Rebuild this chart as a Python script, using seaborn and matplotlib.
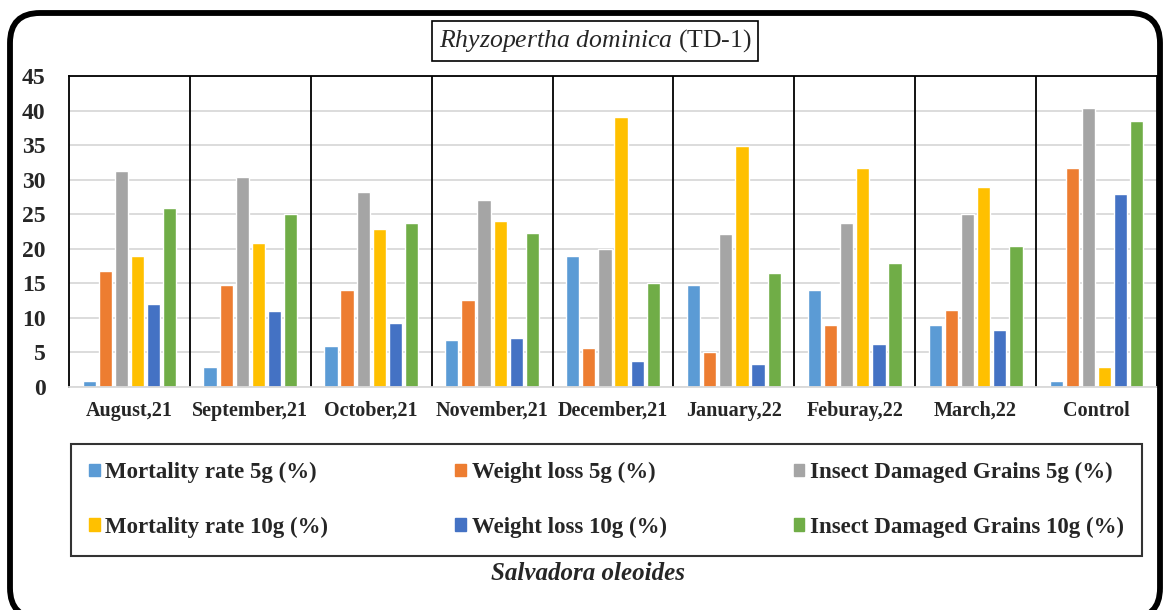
import matplotlib
matplotlib.use("Agg")
import matplotlib.pyplot as plt
import matplotlib.patches as mpatches
import matplotlib.transforms as mtransforms
import numpy as np
import pandas as pd
import seaborn as sns

months = ["August,21", "September,21", "October,21", "November,21", "December,21",
          "January,22", "Feburay,22", "March,22", "Control"]
series = ["Mortality rate 5g (%)", "Weight loss 5g (%)", "Insect Damaged Grains 5g (%)",
          "Mortality rate 10g (%)", "Weight loss 10g (%)", "Insect Damaged Grains 10g (%)"]

mortality_5g = [0.9, 2.9, 5.9, 6.8, 19.0, 14.8, 14.0, 9.0, 0.9]
weight_loss_5g = [16.8, 14.8, 14.0, 12.6, 5.7, 5.1, 9.0, 11.2, 31.7]
damaged_5g = [31.2, 30.4, 28.2, 27.1, 20.0, 22.1, 23.7, 25.1, 40.4]
mortality_10g = [19.0, 20.9, 22.9, 24.0, 39.0, 34.8, 31.7, 29.0, 2.9]
weight_loss_10g = [12.0, 11.0, 9.2, 7.1, 3.7, 3.4, 6.2, 8.2, 27.9]
damaged_10g = [25.9, 25.1, 23.7, 22.3, 15.1, 16.5, 17.9, 20.4, 38.5]

colors = ["#5B9BD5", "#ED7D31", "#A5A5A5", "#FFC000", "#4472C4", "#70AD47"]

values = [mortality_5g, weight_loss_5g, damaged_5g, mortality_10g, weight_loss_10g, damaged_10g]
df = pd.DataFrame(
    [(m, s, v[i]) for s, v in zip(series, values) for i, m in enumerate(months)],
    columns=["Month", "Series", "Value"],
)

sns.set_theme(style="white")
plt.rcParams["font.family"] = ["Liberation Serif", "DejaVu Serif"]
plt.rcParams["mathtext.fontset"] = "custom"
plt.rcParams["mathtext.rm"] = "Liberation Serif"
plt.rcParams["mathtext.it"] = "Liberation Serif:italic"

fig = plt.figure(figsize=(11.64, 6.10), dpi=100)
ax = fig.add_axes([69 / 1164, 1 - 387 / 610, (1157 - 69) / 1164, (387 - 76) / 610])

sns.barplot(data=df, x="Month", y="Value", hue="Series", palette=colors, saturation=1,
            width=0.8, gap=0.18, legend=False, ax=ax)

ax.set_ylim(0, 45)
ax.set_xlim(-0.5, len(months) - 0.5)
ax.set_yticks(np.arange(0, 46, 5))
ax.yaxis.grid(True, color="#d9d9d9", lw=1.3)
ax.set_axisbelow(True)
ax.set_xlabel("")
ax.set_ylabel("")
ax.tick_params(axis="y", length=0, labelsize=17, pad=17)
ax.tick_params(axis="x", length=0, labelsize=14.5, pad=10)
for lab in ax.get_xticklabels() + ax.get_yticklabels():
    lab.set_fontweight("bold")

for side in ["left", "top", "right"]:
    ax.spines[side].set_color("black")
    ax.spines[side].set_linewidth(1.3)
ax.spines["bottom"].set_color("#d9d9d9")
ax.spines["bottom"].set_linewidth(1.3)
for i in range(len(months) - 1):
    ax.axvline(i + 0.5, color="black", lw=1.3)

# legend in row order
handles = [mpatches.Patch(color=c, label=s) for c, s in zip(colors, series)]
order = [0, 3, 1, 4, 2, 5]
leg = fig.legend([handles[i] for i in order], [series[i] for i in order],
                 bbox_to_anchor=(71 / 1164, 1 - 556 / 610, (1142 - 71) / 1164, 112 / 610),
                 loc="center", mode="expand", ncol=3, fancybox=False, frameon=True,
                 borderaxespad=0, borderpad=0.8, labelspacing=1.45,
                 handlelength=0.45, handleheight=0.45, handletextpad=0.25,
                 prop={"family": "Liberation Serif", "weight": "bold", "size": 16.5})
leg.get_frame().set_edgecolor("black")
leg.get_frame().set_linewidth(1.5)

fig.text(595 / 1164, 1 - 41 / 610, r"$\it{Rhyzopertha}$ $\it{dominica}$ (TD-1)",
         ha="center", va="center", fontsize=18.5,
         bbox=dict(boxstyle="square,pad=0.25", fc="white", ec="black", lw=1.2))
fig.text(588 / 1164, 1 - 574 / 610, "Salvadora oleoides", ha="center", va="center",
         fontsize=18, style="italic", fontweight="bold")

frame = mpatches.FancyBboxPatch((10, -8), 1150, 605,
                                boxstyle="round,pad=0,rounding_size=30",
                                fc="none", ec="black", lw=4.2,
                                transform=mtransforms.IdentityTransform())
fig.patches.append(frame)

fig.savefig("out.png", dpi=100)
